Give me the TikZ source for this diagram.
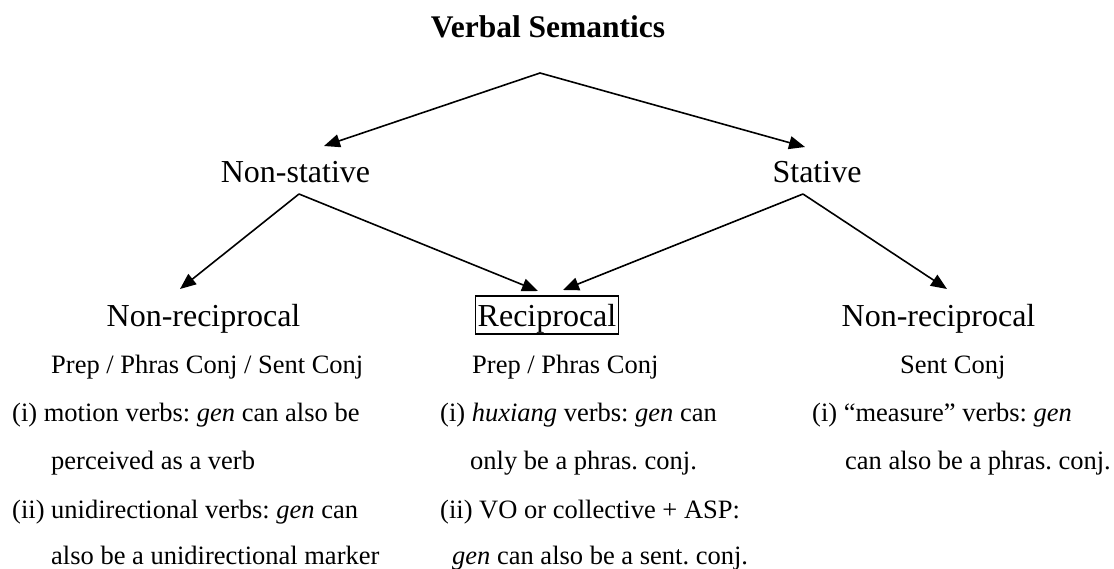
\documentclass[tikz,border=0pt]{standalone}
\usepackage{fontspec}
\setmainfont{Liberation Serif}
\usetikzlibrary{arrows.meta}
\frenchspacing
\begin{document}
\begin{tikzpicture}[x=1pt,y=-1pt,
  lbl/.style={inner sep=0pt,anchor=base,font=\fontsize{32}{38}\selectfont},
  ttl/.style={inner sep=0pt,anchor=base,font=\fontsize{31.5}{38}\bfseries},
  body/.style={inner sep=0pt,anchor=base west,font=\fontsize{26.5}{32}\selectfont\frenchspacing},
  boxed/.style={draw,line width=1.5pt,inner xsep=2pt,inner ysep=1.5pt,text height=28.5pt,text depth=6.5pt,anchor=base,font=\fontsize{32}{38}\selectfont},
  arr/.style={line width=1.6pt,-{Triangle[length=16pt,width=13pt]}}]
\useasboundingbox (0,0) rectangle (1114,568);
% top level
\node[ttl] (title) at (548,37) {Verbal Semantics};
\node[lbl] (nonstat) at (295.5,182) {Non-stative};
\node[lbl] (stat) at (817,182) {Stative};
% third level
\node[lbl] (nrecL) at (203.5,326) {Non-reciprocal};
\node[boxed] (recip) at (547,326) {Reciprocal};
\node[lbl] (nrecR) at (938.5,326) {Non-reciprocal};
% left column text
\node[body] (pL) at (51,373) {Prep / Phras Conj / Sent Conj};
\node[body] (l1) at (12,421) {(i) motion verbs: \textit{gen} can also be};
\node[body] (l2) at (51,469) {perceived as a verb};
\node[body] (l3) at (12,518) {(ii) unidirectional verbs: \textit{gen} can};
\node[body] (l4) at (51,564) {also be a unidirectional marker};
% middle column text
\node[body] (pM) at (472,373) {Prep / Phras Conj};
\node[body] (m1) at (440,421) {(i) \textit{huxiang} verbs: \textit{gen} can};
\node[body] (m2) at (470,469) {only be a phras. conj.};
\node[body] (m3) at (440,518) {(ii) VO or collective + ASP:};
\node[body] (m4) at (452,564) {\textit{gen} can also be a sent. conj.};
% right column text
\node[body] (pR) at (900,373) {Sent Conj};
\node[body] (r1) at (812,421) {(i) “measure” verbs: \textit{gen}};
\node[body] (r2) at (845,469) {can also be a phras. conj.};
% connector points
\coordinate (apexT) at (540,73);
\coordinate (tipNS) at (324,146);
\coordinate (tipS) at (805,147);
\coordinate (apexNS) at (299,194);
\coordinate (tipNRL) at (180,289);
\coordinate (tipRL) at (538,291);
\coordinate (apexS) at (803,194);
\coordinate (tipRR) at (563,290);
\coordinate (tipNRR) at (947,289);
\draw[arr] (apexT) -- (tipNS);
\draw[arr] (apexT) -- (tipS);
\draw[arr] (apexNS) -- (tipNRL);
\draw[arr] (apexNS) -- (tipRL);
\draw[arr] (apexS) -- (tipRR);
\draw[arr] (apexS) -- (tipNRR);
\end{tikzpicture}
\end{document}
